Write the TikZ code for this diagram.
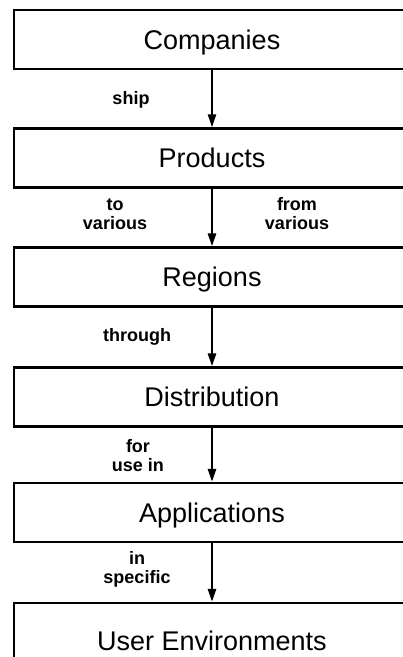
\documentclass[tikz,border=0pt]{standalone}
\usepackage{fontspec}
\setmainfont{Liberation Sans}
\usetikzlibrary{arrows.meta}
\begin{document}
\begin{tikzpicture}[x=1pt,y=-1pt,
  stage/.style={draw, line width=2.2pt, minimum width=396pt, minimum height=59pt,
    inner sep=0pt, text height=19pt, text depth=0pt,
    font=\fontsize{27}{31}\selectfont},
  flow/.style={-{Triangle[length=13pt,width=8pt]}, line width=2.6pt},
  tag/.style={font=\bfseries\fontsize{18}{19}\selectfont, align=center, inner sep=0pt}]
\useasboundingbox (0,0) rectangle (403,657);

% the chain of stages
\node[stage] (comp) at (212,39.5) {Companies};
\node[stage] (prod) at (212,158)  {Products};
\node[stage] (reg)  at (212,277)  {Regions};
\node[stage] (dist) at (212,397)  {Distribution};
\node[stage] (app)  at (212,512.5){Applications};
\node[stage, minimum height=76pt] (env) at (212,641) {User Environments};

% links between stages
\draw[flow, line width=2pt] (comp.south) -- (prod.north);
\draw[flow] (prod.south) -- (reg.north);
\draw[flow] (reg.south)  -- (dist.north);
\draw[flow] (dist.south) -- (app.north);
\draw[flow] (app.south)  -- (env.north);

% link labels
\node[tag] (t1)  at (131,100) {ship};
\node[tag] (t2a) at (115,214) {to\\various};
\node[tag] (t2b) at (297,214) {from\\various};
\node[tag] (t3)  at (137,337) {through};
\node[tag] (t4)  at (138,456) {for\\use in};
\node[tag] (t5)  at (137,569) {in\\specific};
\end{tikzpicture}
\end{document}
